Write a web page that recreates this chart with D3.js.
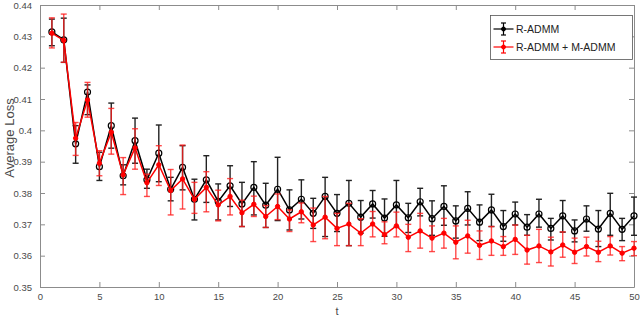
<!DOCTYPE html>
<html>
<head>
<meta charset="utf-8">
<script src="https://cdn.jsdelivr.net/npm/d3@7"></script>
<style>
  html, body { margin: 0; padding: 0; background: #fff; }
  svg { display: block; font-family: "Liberation Sans", Arial, sans-serif; }
</style>
</head>
<body>
<svg id="chart" width="640" height="316"></svg>
<script>
// iterations
const tVals = d3.range(1, 51);

// R-ADMM (black)
const radmmMean = [0.4314, 0.4289, 0.3957, 0.4122, 0.3884, 0.4015, 0.3855, 0.3967, 0.3842, 0.3927,
  0.3812, 0.3882, 0.3780, 0.3842, 0.3773, 0.3823, 0.3765, 0.3818, 0.3761, 0.3812,
  0.3746, 0.3780, 0.3735, 0.3789, 0.3735, 0.3767, 0.3723, 0.3765, 0.3720, 0.3762,
  0.3721, 0.3772, 0.3718, 0.3757, 0.3711, 0.3751, 0.3707, 0.3746, 0.3693, 0.3733,
  0.3691, 0.3733, 0.3687, 0.3727, 0.3679, 0.3717, 0.3685, 0.3735, 0.3684, 0.3727];
const radmmHi = [0.4355, 0.4358, 0.4015, 0.4145, 0.3930, 0.4087, 0.3890, 0.4039, 0.3876, 0.4017,
  0.3850, 0.3951, 0.3844, 0.3919, 0.3829, 0.3887, 0.3834, 0.3900, 0.3831, 0.3914,
  0.3810, 0.3842, 0.3783, 0.3850, 0.3795, 0.3840, 0.3776, 0.3808, 0.3781, 0.3840,
  0.3767, 0.3815, 0.3775, 0.3823, 0.3759, 0.3804, 0.3762, 0.3796, 0.3744, 0.3771,
  0.3731, 0.3780, 0.3719, 0.3776, 0.3714, 0.3759, 0.3744, 0.3799, 0.3719, 0.3787];
const radmmLo = [0.4270, 0.4217, 0.3895, 0.4050, 0.3840, 0.3943, 0.3826, 0.3895, 0.3815, 0.3836,
  0.3775, 0.3810, 0.3714, 0.3770, 0.3714, 0.3757, 0.3693, 0.3730, 0.3690, 0.3712,
  0.3682, 0.3717, 0.3687, 0.3661, 0.3677, 0.3632, 0.3672, 0.3720, 0.3662, 0.3691,
  0.3674, 0.3727, 0.3665, 0.3697, 0.3656, 0.3698, 0.3648, 0.3693, 0.3646, 0.3698,
  0.3665, 0.3691, 0.3650, 0.3675, 0.3644, 0.3678, 0.3629, 0.3665, 0.3648, 0.3665];

// R-ADMM + M-ADMM (red)
const mixMean = [0.4310, 0.4287, 0.3975, 0.4097, 0.3895, 0.3994, 0.3858, 0.3944, 0.3833, 0.3890,
  0.3808, 0.3845, 0.3780, 0.3818, 0.3762, 0.3789, 0.3737, 0.3764, 0.3725, 0.3757,
  0.3717, 0.3740, 0.3698, 0.3723, 0.3687, 0.3701, 0.3672, 0.3701, 0.3667, 0.3695,
  0.3659, 0.3679, 0.3656, 0.3672, 0.3643, 0.3663, 0.3633, 0.3647, 0.3629, 0.3652,
  0.3618, 0.3631, 0.3612, 0.3634, 0.3611, 0.3629, 0.3611, 0.3631, 0.3608, 0.3624];
const mixHi = [0.4359, 0.4371, 0.4025, 0.4153, 0.3935, 0.4070, 0.3913, 0.4005, 0.3860, 0.3951,
  0.3875, 0.3953, 0.3834, 0.3868, 0.3809, 0.3846, 0.3777, 0.3790, 0.3760, 0.3797,
  0.3746, 0.3768, 0.3752, 0.3789, 0.3735, 0.3767, 0.3718, 0.3741, 0.3708, 0.3739,
  0.3700, 0.3735, 0.3695, 0.3719, 0.3695, 0.3713, 0.3679, 0.3693, 0.3661, 0.3698,
  0.3665, 0.3684, 0.3659, 0.3676, 0.3656, 0.3659, 0.3646, 0.3661, 0.3629, 0.3645];
const mixLo = [0.4263, 0.4217, 0.3920, 0.4042, 0.3855, 0.3924, 0.3795, 0.3876, 0.3789, 0.3824,
  0.3730, 0.3749, 0.3735, 0.3740, 0.3711, 0.3730, 0.3693, 0.3725, 0.3690, 0.3715,
  0.3677, 0.3705, 0.3645, 0.3654, 0.3632, 0.3632, 0.3632, 0.3660, 0.3638, 0.3660,
  0.3613, 0.3624, 0.3613, 0.3624, 0.3590, 0.3608, 0.3588, 0.3601, 0.3601, 0.3604,
  0.3573, 0.3578, 0.3567, 0.3595, 0.3575, 0.3599, 0.3581, 0.3602, 0.3584, 0.3600];

const xTicks = [0, 5, 10, 15, 20, 25, 30, 35, 40, 45, 50];
const yTicks = [0.35, 0.36, 0.37, 0.38, 0.39, 0.40, 0.41, 0.42, 0.43, 0.44];
const seriesNames = ["R-ADMM", "R-ADMM + M-ADMM"];

// layout
const plotL = 40, plotR = 634, plotT = 5, plotB = 287;
const svg = d3.select("#chart");

const x = d3.scaleLinear().domain([0, 50]).range([plotL, plotR]);
const y = d3.scaleLinear().domain([0.35, 0.44]).range([plotB, plotT]);

const axisColor = "#8c8c8c";
const labelColor = "#4a4a4a";

// axes box with inward ticks on all sides
const xAxisB = d3.axisBottom(x).tickValues(xTicks).tickSizeInner(-5).tickSizeOuter(0).tickPadding(6).tickFormat(d3.format("d"));
const xAxisT = d3.axisTop(x).tickValues(xTicks).tickSizeInner(-5).tickSizeOuter(0).tickFormat("");
const yAxisL = d3.axisLeft(y).tickValues(yTicks).tickSizeInner(-5).tickSizeOuter(0).tickPadding(8).tickFormat(d => d3.format(".2~f")(d));
const yAxisR = d3.axisRight(y).tickValues(yTicks).tickSizeInner(-5).tickSizeOuter(0).tickFormat("");

function styleAxis(g) {
  g.select(".domain").attr("stroke", axisColor);
  g.selectAll(".tick line").attr("stroke", axisColor);
  g.selectAll(".tick text").attr("fill", labelColor).attr("font-size", 9.5)
    .attr("font-family", "Liberation Sans, Arial, sans-serif");
}

svg.append("g").attr("transform", `translate(0,${plotB})`).call(xAxisB).call(styleAxis);
svg.append("g").attr("transform", `translate(0,${plotT})`).call(xAxisT).call(styleAxis);
svg.append("g").attr("transform", `translate(${plotL},0)`).call(yAxisL).call(styleAxis);
svg.append("g").attr("transform", `translate(${plotR},0)`).call(yAxisR).call(styleAxis);

// axis labels
svg.append("text")
  .attr("x", x(25)).attr("y", 315)
  .attr("text-anchor", "middle").attr("font-size", 11).attr("fill", labelColor)
  .text("t");
svg.append("text")
  .attr("transform", "translate(14,138) rotate(-90)")
  .attr("text-anchor", "middle").attr("font-size", 13).attr("fill", labelColor)
  .text("Average Loss");

// build series
function makeRows(mean, lo, hi) {
  return tVals.map((t, i) => ({ t, m: mean[i], lo: lo[i], hi: hi[i] }));
}
const series = [
  { name: seriesNames[0], rows: makeRows(radmmMean, radmmLo, radmmHi), line: "#000", bar: "#222", open: true },
  { name: seriesNames[1], rows: makeRows(mixMean, mixLo, mixHi), line: "#ff0000", bar: "rgba(255,30,30,0.8)", open: false }
];

const capW = 3;
const lineGen = d3.line().x(d => x(d.t)).y(d => y(d.m));

series.forEach(s => {
  const g = svg.append("g");

  // error bars
  const eb = g.append("g").attr("stroke", s.bar).attr("stroke-width", 1.4);
  eb.selectAll("line.v").data(s.rows).join("line").attr("class", "v")
    .attr("x1", d => x(d.t)).attr("x2", d => x(d.t))
    .attr("y1", d => y(d.lo)).attr("y2", d => y(d.hi));
  eb.selectAll("line.top").data(s.rows).join("line").attr("class", "top")
    .attr("x1", d => x(d.t) - capW).attr("x2", d => x(d.t) + capW)
    .attr("y1", d => y(d.hi)).attr("y2", d => y(d.hi));
  eb.selectAll("line.bot").data(s.rows).join("line").attr("class", "bot")
    .attr("x1", d => x(d.t) - capW).attr("x2", d => x(d.t) + capW)
    .attr("y1", d => y(d.lo)).attr("y2", d => y(d.lo));

  // line
  g.append("path").datum(s.rows)
    .attr("fill", "none").attr("stroke", s.line).attr("stroke-width", 1.5)
    .attr("d", lineGen);

  // markers
  g.selectAll("circle").data(s.rows).join("circle")
    .attr("cx", d => x(d.t)).attr("cy", d => y(d.m))
    .attr("r", s.open ? 3 : 2.2)
    .attr("fill", s.open ? "none" : s.line)
    .attr("stroke", s.line).attr("stroke-width", s.open ? 1.2 : 1);
});

// legend
const lg = svg.append("g");
lg.append("rect")
  .attr("x", 490.5).attr("y", 15.5).attr("width", 142).attr("height", 44)
  .attr("fill", "#fff").attr("stroke", "#555").attr("stroke-width", 0.8);
series.forEach((s, i) => {
  const cy = 29 + i * 18;
  const cx = 503.5;
  const item = lg.append("g");
  item.append("line").attr("x1", cx - 10).attr("x2", cx + 10).attr("y1", cy).attr("y2", cy)
    .attr("stroke", s.line).attr("stroke-width", 1.2);
  item.append("line").attr("x1", cx).attr("x2", cx).attr("y1", cy - 6).attr("y2", cy + 6)
    .attr("stroke", s.line).attr("stroke-width", 1.2);
  item.append("line").attr("x1", cx - 2.5).attr("x2", cx + 2.5).attr("y1", cy - 6).attr("y2", cy - 6)
    .attr("stroke", s.line).attr("stroke-width", 1.2);
  item.append("line").attr("x1", cx - 2.5).attr("x2", cx + 2.5).attr("y1", cy + 6).attr("y2", cy + 6)
    .attr("stroke", s.line).attr("stroke-width", 1.2);
  item.append("circle").attr("cx", cx).attr("cy", cy).attr("r", 2)
    .attr("fill", s.line).attr("stroke", s.line);
  item.append("text").attr("x", 516).attr("y", cy + 3.5)
    .attr("font-size", 10.5).attr("fill", "#222")
    .text(s.name);
});
</script>
</body>
</html>
